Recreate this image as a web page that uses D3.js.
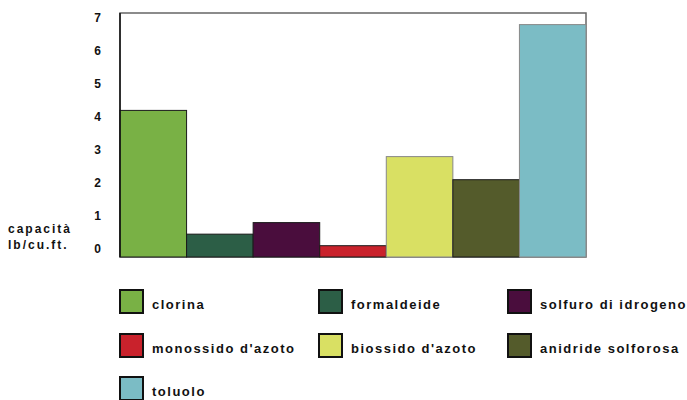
<!DOCTYPE html>
<meta charset="utf-8">
<script src="https://d3js.org/d3.v7.min.js"></script>
<style>
body { margin: 0; background: #fff; }
text { font-family: "Liberation Sans", Arial, sans-serif; font-weight: bold; fill: #111; }
.tick text { font-size: 12px; }
.legend text { font-size: 13px; letter-spacing: 1.5px; }
.ytitle { font-size: 12px; letter-spacing: 2px; }
</style>
<body></body>
<script>
// data
var categories = ['clorina', 'formaldeide', 'solfuro di idrogeno', 'monossido d\'azoto',
                  'biossido d\'azoto', 'anidride solforosa', 'toluolo'];
var values = [4.2, 0.45, 0.8, 0.1, 2.8, 2.1, 6.8];
var colors = ['#79b145', '#2c5e46', '#4a0d3d', '#c9222c', '#d9e063', '#545b2b', '#7bbcc5'];
var yTicks = [0, 1, 2, 3, 4, 5, 6, 7];
var yTitle = ['capacità', 'lb/cu.ft.'];

var W = 687, H = 400;
var plot = {left: 120, right: 586, top: 13, bottom: 257};

var svg = d3.select('body').append('svg')
    .attr('width', W)
    .attr('height', H);

var x = d3.scaleBand()
    .domain(categories)
    .range([plot.left, plot.right])
    .padding(0);

// tick labels sit a little above the bar baseline in the original
var y = d3.scaleLinear()
    .domain([0, 7])
    .range([249, 18]);

// frame
svg.append('rect')
    .attr('x', plot.left)
    .attr('y', plot.top)
    .attr('width', plot.right - plot.left)
    .attr('height', plot.bottom - plot.top)
    .attr('fill', 'none')
    .attr('stroke', '#666')
    .attr('stroke-width', 1.5);

// bars
svg.selectAll('.bar')
    .data(values)
    .enter().append('rect')
    .attr('class', 'bar')
    .attr('x', function(d, i) { return x(categories[i]); })
    .attr('width', x.bandwidth())
    .attr('y', function(d) { return y(d); })
    .attr('height', function(d) { return plot.bottom - y(d); })
    .attr('fill', function(d, i) { return colors[i]; })
    .attr('stroke', function(d, i) { return (i == 4 || i == 6) ? '#888' : '#1a1a1a'; })
    .attr('stroke-width', 1);

svg.append('line')
    .attr('x1', plot.left).attr('x2', plot.left)
    .attr('y1', plot.top).attr('y2', plot.bottom)
    .attr('stroke', '#111')
    .attr('stroke-width', 1.5);

// y axis (labels only)
var yAxis = d3.axisLeft(y).tickValues(yTicks).tickSize(0).tickPadding(0).tickFormat(d3.format('d'));
var yAxisGroup = svg.append('g')
    .attr('transform', 'translate(101,0)')
    .call(yAxis);
yAxisGroup.select('.domain').remove();
yAxisGroup.selectAll('text').style('font-size', '12px').attr('text-anchor', 'end');

svg.append('g').selectAll('text')
    .data(yTitle)
    .enter().append('text')
    .attr('class', 'ytitle')
    .attr('x', 8)
    .attr('y', function(d, i) { return 233 + i * 16; })
    .text(function(d) { return d; });

// legend
var legCols = [119, 318, 507];
var legRows = [289, 333, 376];
var legend = svg.selectAll('.legend')
    .data(categories)
    .enter().append('g')
    .attr('class', 'legend')
    .attr('transform', function(d, i) {
        return 'translate(' + legCols[i % 3] + ',' + legRows[Math.floor(i / 3)] + ')';
    });

legend.append('rect')
    .attr('x', 1).attr('y', 1)
    .attr('width', 23).attr('height', 23)
    .attr('fill', function(d, i) { return colors[i]; })
    .attr('stroke', '#111')
    .attr('stroke-width', 2);

legend.append('text')
    .attr('x', 33)
    .attr('y', 20)
    .text(function(d) { return d; });
</script>
